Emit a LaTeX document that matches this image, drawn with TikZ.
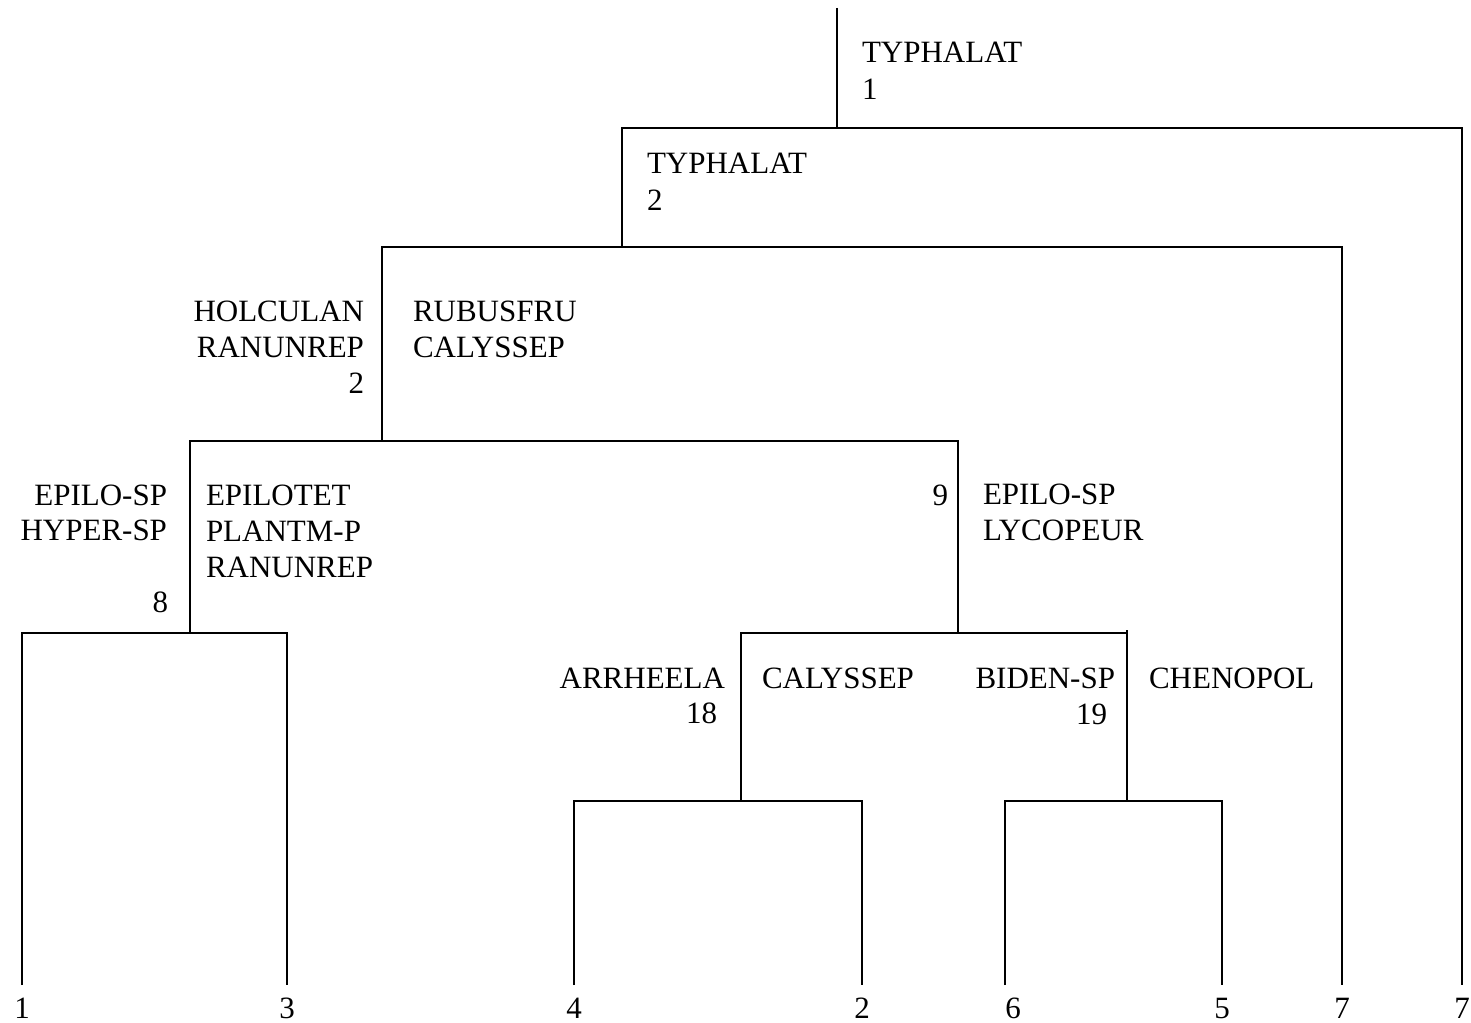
\documentclass[tikz,border=0pt]{standalone}
\usepackage{fontspec}
\setmainfont{Liberation Serif}
\begin{document}
\begin{tikzpicture}[x=1pt,y=-1pt,
  edge/.style={draw=black,line width=2.2pt},
  lbl/.style={inner sep=0pt,outer sep=0pt,font=\fontsize{31}{36}\selectfont},
  lw/.style={lbl,anchor=base west},
  le/.style={lbl,anchor=base east},
  leaf/.style={lbl,anchor=base}]
\useasboundingbox (0,0) rectangle (1471,1022);
% junctions
\coordinate (top) at (837,8);
\coordinate (n1) at (837,128);
\coordinate (n2) at (622,247);
\coordinate (n3) at (382,441);
\coordinate (n4) at (190,633);
\coordinate (n5) at (958,633);
\coordinate (n6) at (741,801);
\coordinate (n7t) at (1127,630);
\coordinate (n7) at (1127,801);
% leaves
\coordinate (L1) at (22,985);
\coordinate (L3) at (287,985);
\coordinate (L4) at (574,985);
\coordinate (L2) at (862,985);
\coordinate (L6) at (1005,985);
\coordinate (L5) at (1222,985);
\coordinate (L7a) at (1342,985);
\coordinate (L7b) at (1462,985);
% connectors
\draw[edge] (top) -- (n1);
\draw[edge] (n2) |- (n1) -| (L7b);
\draw[edge] (n3) |- (n2) -| (L7a);
\draw[edge] (n4) |- (n3) -| (n5);
\draw[edge] (L1) |- (n4) -| (L3);
\draw[edge] (n6) |- (n5) -| (n7);
\draw[edge] (n7t) -- (n7);
\draw[edge] (L4) |- (n6) -| (L2);
\draw[edge] (L6) |- (n7) -| (L5);
% labels
\node[lw] (t1a) at (862,63) {TYPHALAT};
\node[lw] (t1b) at (862,100) {1};
\node[lw] (t2a) at (647,173) {TYPHALAT};
\node[lw] (t2b) at (647,210) {2};
\node[le] (t3a) at (364,321) {HOLCULAN};
\node[le] (t3b) at (364,357) {RANUNREP};
\node[le] (t3c) at (364,393) {2};
\node[lw] (t3d) at (413,321) {RUBUSFRU};
\node[lw] (t3e) at (413,357) {CALYSSEP};
\node[le] (t4a) at (167,505) {EPILO-SP};
\node[le] (t4b) at (167,540) {HYPER-SP};
\node[le] (t4c) at (168,612) {8};
\node[lw] (t4d) at (206,505) {EPILOTET};
\node[lw] (t4e) at (206,541) {PLANTM-P};
\node[lw] (t4f) at (206,577) {RANUNREP};
\node[le] (t5a) at (948,505) {9};
\node[lw] (t5b) at (983,504) {EPILO-SP};
\node[lw] (t5c) at (983,540) {LYCOPEUR};
\node[le] (t6a) at (725,688) {ARRHEELA};
\node[le] (t6b) at (717,723) {18};
\node[lw] (t6c) at (762,688) {CALYSSEP};
\node[le] (t7a) at (1115,688) {BIDEN-SP};
\node[le] (t7b) at (1107,724) {19};
\node[lw] (t7c) at (1149,688) {CHENOPOL};
% leaf labels
\node[leaf] (l1) at (22,1018) {1};
\node[leaf] (l3) at (287,1018) {3};
\node[leaf] (l4) at (574,1018) {4};
\node[leaf] (l2) at (862,1018) {2};
\node[leaf] (l6) at (1013,1018) {6};
\node[leaf] (l5) at (1222,1018) {5};
\node[leaf] (l7a) at (1342,1018) {7};
\node[leaf] (l7b) at (1462,1018) {7};
\end{tikzpicture}
\end{document}
